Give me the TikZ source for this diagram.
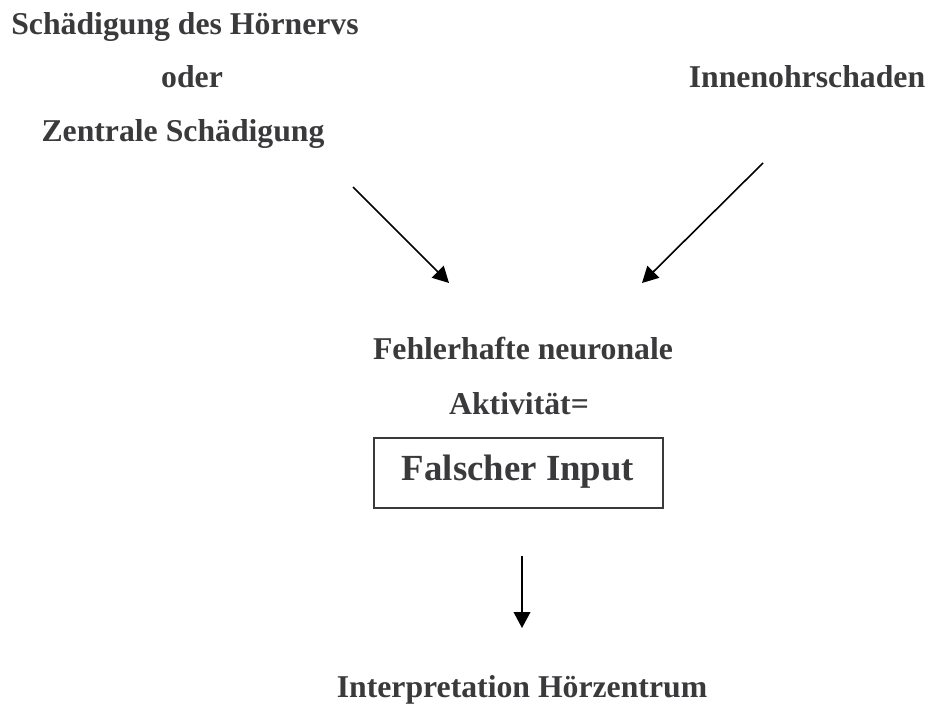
\documentclass[tikz,border=0pt]{standalone}
\usepackage{fontspec}
\setmainfont{Liberation Serif}
\usetikzlibrary{arrows.meta}
\definecolor{inkgray}{HTML}{3A3A3C}
\begin{document}
\begin{tikzpicture}[x=0.75pt,y=-0.75pt,
  label/.style={text=inkgray,font=\bfseries\fontsize{23.8}{28}\selectfont,inner sep=0pt,anchor=base},
  bigbox/.style={draw=inkgray,line width=1.3pt,minimum width=289*0.75pt,minimum height=70*0.75pt,inner sep=0pt},
  flow/.style={line width=1.2pt,-{Triangle[length=12pt,width=12.5pt]}}]
  \useasboundingbox (0,0) rectangle (930,704);

  % upper labels
  \node[label] (nerv) at (185,34) {Schädigung des Hörnervs};
  \node[label] (oder) at (192,87) {oder};
  \node[label] (zentral) at (183,141) {Zentrale Schädigung};
  \node[label] (innen) at (807,87) {Innenohrschaden};

  % middle block
  \node[label] (fehl) at (523,359) {Fehlerhafte neuronale};
  \node[label] (akt) at (519,414) {Aktivität=};
  \node[bigbox] (box) at (518.5,473) {};
  \node[label,font=\bfseries\fontsize{27.6}{32}\selectfont] (input) at (518,480) {Falscher Input};

  % bottom label
  \node[label] (interp) at (522,697) {Interpretation Hörzentrum};

  % arrow end points
  \coordinate (a1s) at (353,187);
  \coordinate (a1e) at (449,283);
  \coordinate (a2s) at (763,163);
  \coordinate (a2e) at (642,283);
  \coordinate (a3s) at (522,556);
  \coordinate (a3e) at (522,628);

  \draw[flow] (a1s) -- (a1e);
  \draw[flow] (a2s) -- (a2e);
  \draw[flow] (a3s) -- (a3e);
\end{tikzpicture}
\end{document}
